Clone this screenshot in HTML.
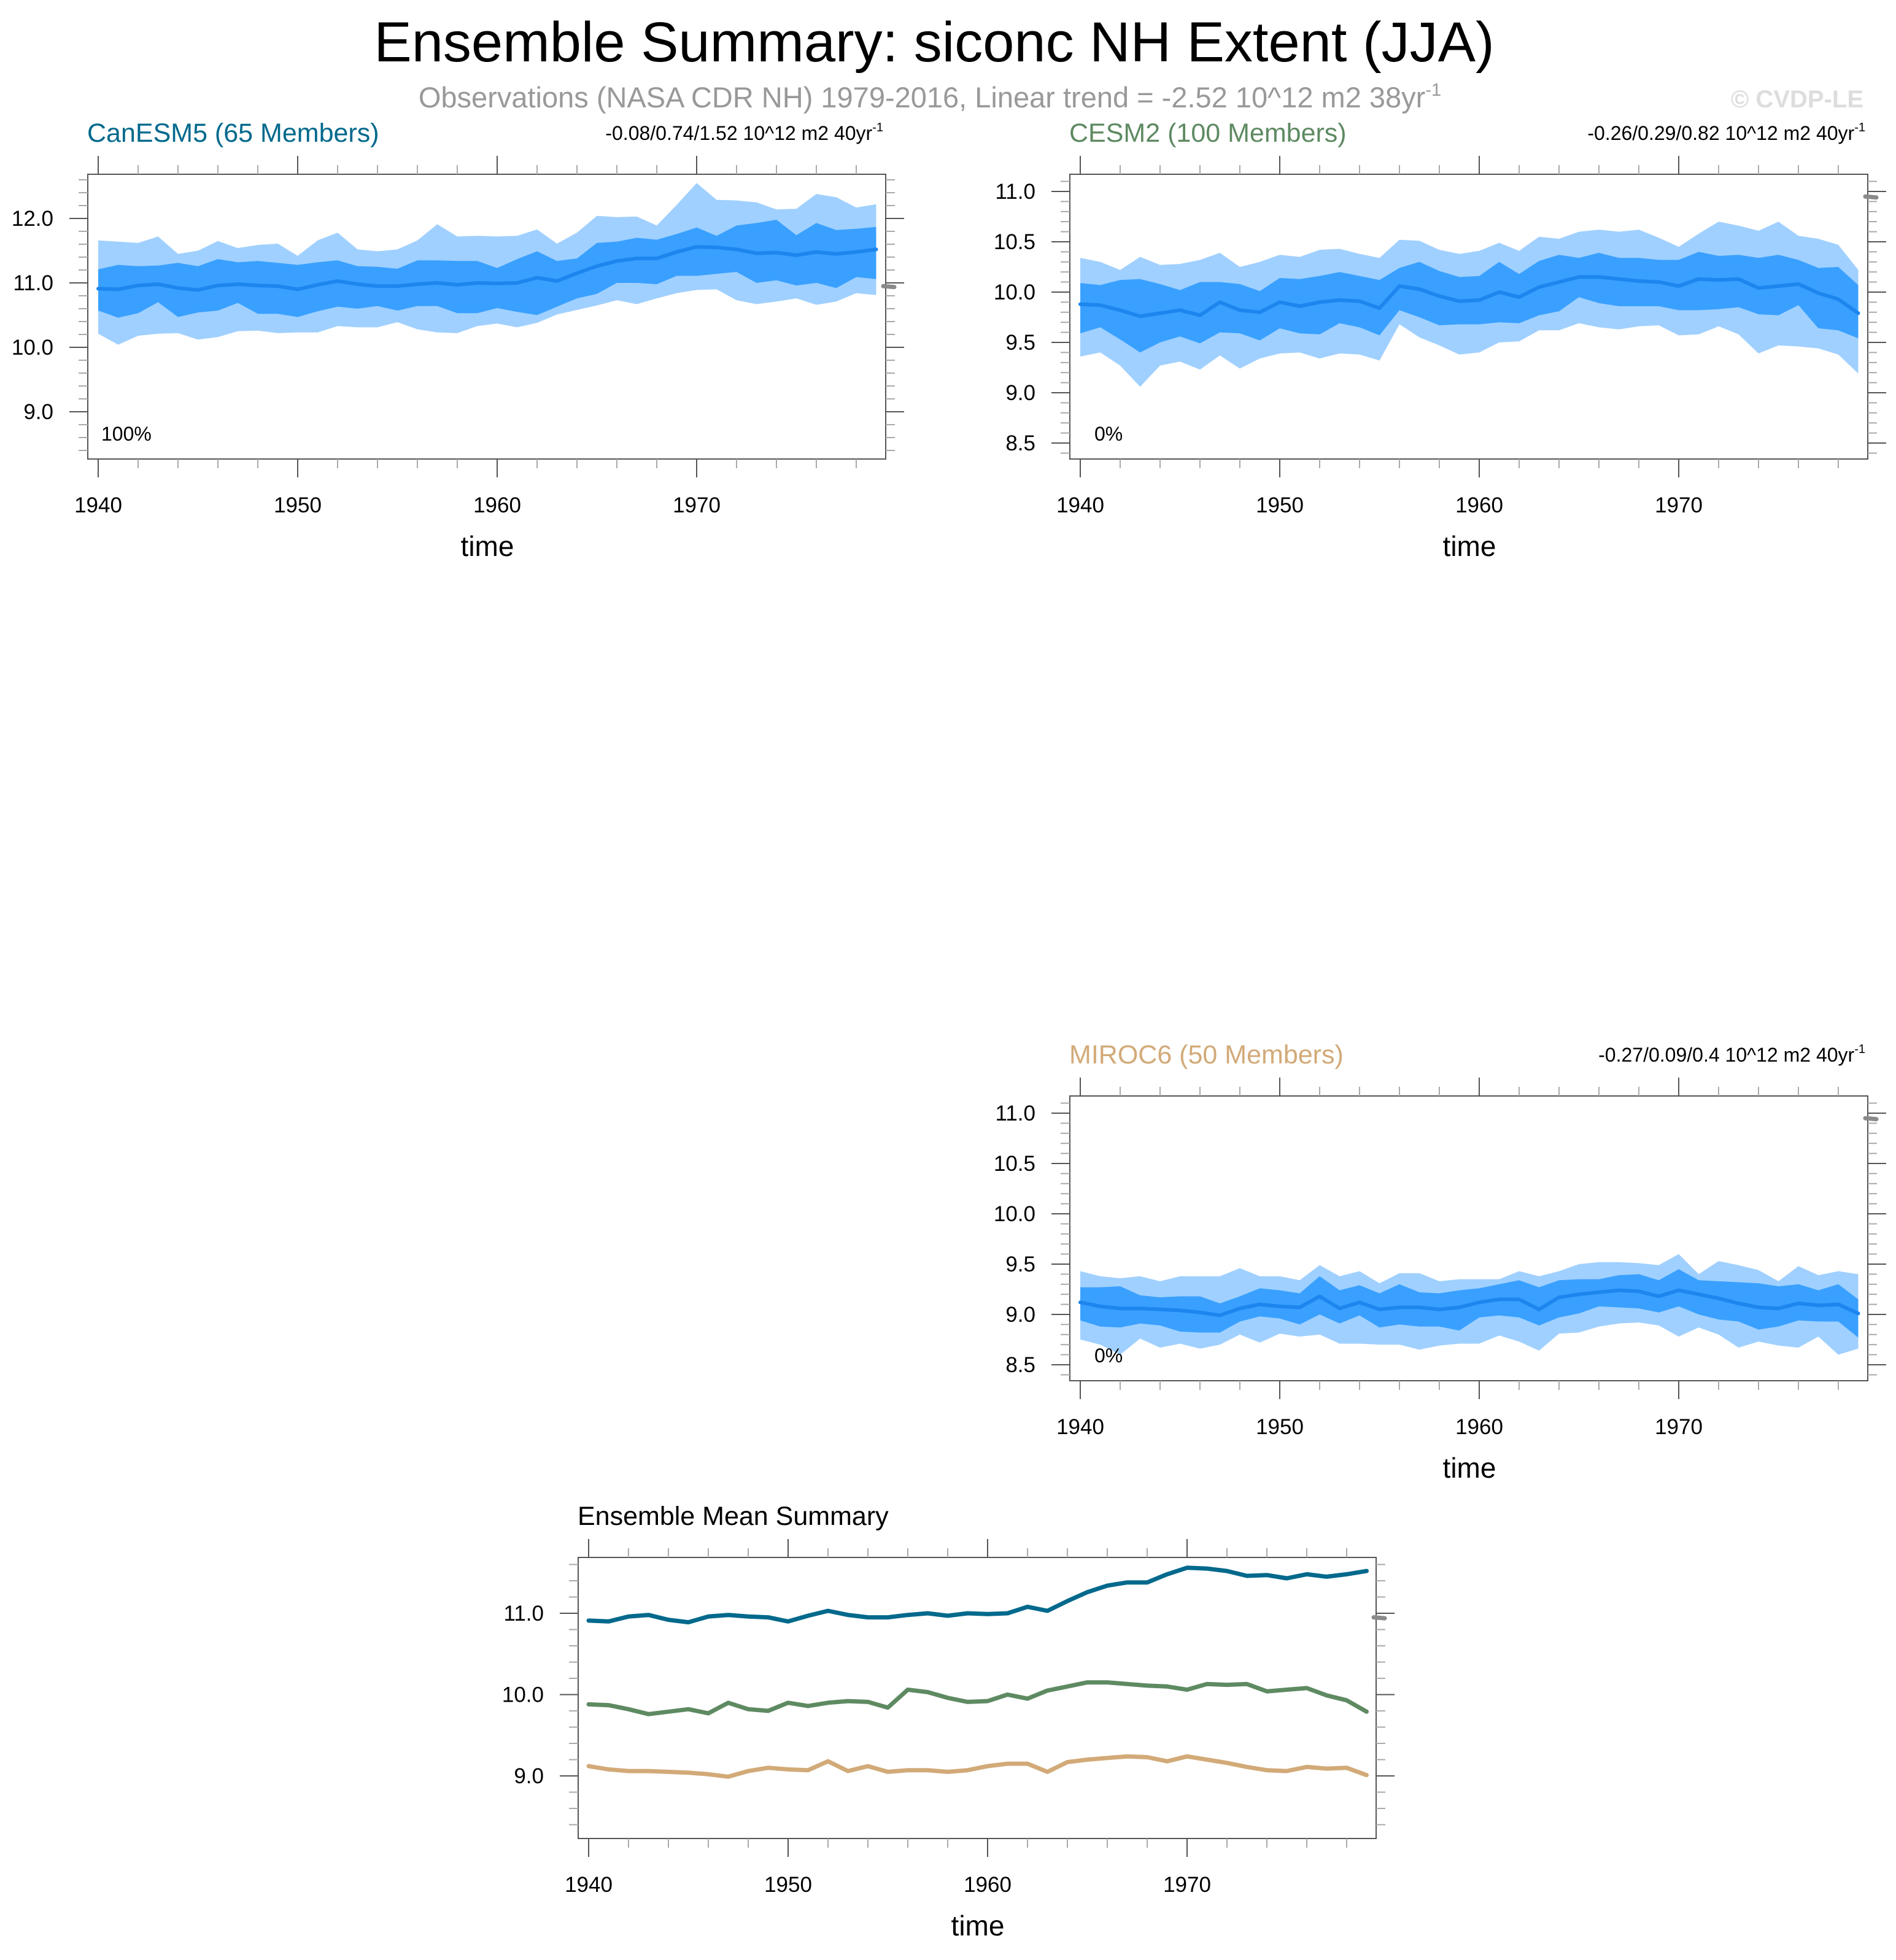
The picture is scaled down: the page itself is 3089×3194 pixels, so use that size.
<!DOCTYPE html>
<html><head><meta charset="utf-8">
<style>
html,body{margin:0;padding:0;background:#fff;}
svg{display:block;font-family:"Liberation Sans",sans-serif;}
</style></head>
<body>
<svg id="chart" width="3089" height="3194" viewBox="0 0 3089 3194" xmlns="http://www.w3.org/2000/svg">
<rect x="0" y="0" width="3089" height="3194" fill="#fff"/>
<text x="1522" y="100" font-size="92" text-anchor="middle" fill="#000">Ensemble Summary: siconc NH Extent (JJA)</text>
<text x="1515" y="175" font-size="47" text-anchor="middle" fill="#999">Observations (NASA CDR NH) 1979-2016, Linear trend = -2.52 10^12 m2 38yr<tspan font-size="29" dy="-19">-1</tspan></text>
<text x="3036" y="175" font-size="40" font-weight="bold" text-anchor="end" fill="#ddd">© CVDP-LE</text>
</svg>
<script>
const years = [];
for (let y = 1940; y <= 1979; y++) years.push(y);

const canMean = [10.91,10.90,10.96,10.98,10.92,10.89,10.96,10.98,10.96,10.95,10.90,10.97,11.03,10.98,10.95,10.95,10.98,11.00,10.97,11.00,10.99,11.00,11.08,11.03,11.15,11.26,11.34,11.38,11.38,11.48,11.56,11.55,11.52,11.46,11.47,11.43,11.48,11.45,11.48,11.52];
const canDarkHi = [11.21,11.28,11.26,11.27,11.31,11.26,11.37,11.32,11.34,11.31,11.28,11.32,11.35,11.26,11.25,11.22,11.35,11.35,11.34,11.34,11.23,11.37,11.49,11.34,11.38,11.62,11.64,11.70,11.67,11.76,11.86,11.73,11.89,11.93,11.98,11.74,11.93,11.82,11.84,11.87];
const canDarkLo = [10.57,10.46,10.53,10.70,10.47,10.54,10.57,10.69,10.52,10.52,10.47,10.56,10.63,10.60,10.64,10.57,10.64,10.64,10.53,10.53,10.61,10.55,10.50,10.63,10.76,10.83,11.00,11.00,10.98,11.11,11.11,11.14,11.17,11.00,11.04,10.96,11.00,10.92,11.09,11.06];
const canLightHi = [11.66,11.64,11.62,11.72,11.45,11.50,11.65,11.54,11.59,11.61,11.42,11.66,11.78,11.52,11.49,11.52,11.66,11.91,11.72,11.73,11.72,11.73,11.83,11.61,11.78,12.04,12.02,12.03,11.89,12.21,12.55,12.29,12.28,12.25,12.14,12.15,12.38,12.33,12.17,12.22];
const canLightLo = [10.21,10.04,10.18,10.21,10.22,10.12,10.16,10.25,10.26,10.22,10.23,10.23,10.33,10.31,10.31,10.39,10.28,10.23,10.22,10.33,10.37,10.31,10.38,10.51,10.58,10.65,10.73,10.67,10.76,10.84,10.89,10.90,10.73,10.67,10.71,10.76,10.66,10.71,10.84,10.81];

const cesmMean = [9.88,9.87,9.82,9.76,9.79,9.82,9.77,9.90,9.82,9.80,9.90,9.86,9.90,9.92,9.91,9.84,10.06,10.03,9.96,9.91,9.92,10.00,9.95,10.05,10.10,10.15,10.15,10.13,10.11,10.10,10.06,10.13,10.12,10.13,10.04,10.06,10.08,9.99,9.93,9.79];
const cesmDarkHi = [10.09,10.07,10.12,10.13,10.08,10.02,10.10,10.10,10.08,10.01,10.14,10.13,10.16,10.20,10.16,10.12,10.24,10.30,10.21,10.15,10.16,10.30,10.18,10.31,10.37,10.34,10.39,10.34,10.34,10.32,10.32,10.40,10.36,10.37,10.34,10.37,10.32,10.24,10.25,10.07];
const cesmDarkLo = [9.59,9.65,9.53,9.40,9.50,9.56,9.49,9.60,9.59,9.52,9.64,9.59,9.58,9.69,9.65,9.57,9.82,9.75,9.67,9.68,9.68,9.70,9.69,9.77,9.81,9.95,9.89,9.86,9.86,9.86,9.82,9.82,9.83,9.85,9.78,9.77,9.87,9.64,9.62,9.54];
const cesmLightHi = [10.34,10.30,10.22,10.35,10.27,10.28,10.32,10.39,10.25,10.30,10.37,10.35,10.42,10.43,10.38,10.34,10.52,10.51,10.42,10.38,10.41,10.49,10.41,10.55,10.53,10.60,10.62,10.60,10.62,10.54,10.45,10.58,10.70,10.66,10.61,10.70,10.56,10.53,10.47,10.22];
const cesmLightLo = [9.36,9.40,9.27,9.06,9.27,9.31,9.23,9.37,9.24,9.34,9.39,9.40,9.34,9.39,9.38,9.32,9.68,9.55,9.47,9.38,9.40,9.50,9.51,9.62,9.62,9.69,9.65,9.63,9.66,9.67,9.57,9.58,9.66,9.58,9.39,9.47,9.46,9.44,9.38,9.19];

const mirocMean = [9.12,9.08,9.06,9.06,9.05,9.04,9.02,8.99,9.06,9.10,9.08,9.07,9.18,9.06,9.12,9.05,9.07,9.07,9.05,9.07,9.12,9.15,9.15,9.05,9.17,9.20,9.22,9.24,9.23,9.18,9.24,9.20,9.16,9.11,9.07,9.06,9.11,9.09,9.10,9.01];
const mirocDarkHi = [9.27,9.27,9.28,9.19,9.17,9.18,9.18,9.11,9.18,9.26,9.24,9.21,9.38,9.24,9.29,9.21,9.30,9.22,9.21,9.24,9.26,9.30,9.34,9.27,9.34,9.35,9.35,9.39,9.40,9.34,9.45,9.34,9.33,9.32,9.31,9.28,9.30,9.24,9.30,9.15];
const mirocDarkLo = [8.94,8.88,8.87,8.91,8.89,8.83,8.82,8.82,8.93,8.98,8.96,8.90,9.00,8.91,8.99,8.87,8.90,8.88,8.88,8.84,8.97,8.99,8.97,8.89,8.97,9.01,9.08,9.07,9.06,9.02,9.08,9.00,8.95,8.93,8.85,8.88,8.94,8.93,8.93,8.77];
const mirocLightHi = [9.43,9.38,9.36,9.38,9.33,9.38,9.38,9.38,9.46,9.38,9.38,9.34,9.49,9.38,9.43,9.31,9.41,9.41,9.33,9.35,9.35,9.35,9.43,9.38,9.43,9.50,9.52,9.52,9.51,9.49,9.60,9.40,9.53,9.49,9.44,9.33,9.48,9.39,9.43,9.40];
const mirocLightLo = [8.75,8.70,8.60,8.76,8.67,8.71,8.66,8.70,8.80,8.72,8.81,8.78,8.80,8.71,8.71,8.70,8.70,8.65,8.69,8.71,8.71,8.79,8.73,8.64,8.81,8.82,8.88,8.91,8.92,8.89,8.78,8.87,8.80,8.67,8.73,8.69,8.67,8.78,8.60,8.66];

const obsValue = 10.95;
const xTickLabels = ["1940","1950","1960","1970"];

const NS = "http://www.w3.org/2000/svg";
const svg = document.getElementById("chart");
function mk(tag, attrs, parent) {
  const e = document.createElementNS(NS, tag);
  for (const k in attrs) e.setAttribute(k, attrs[k]);
  (parent || svg).appendChild(e);
  return e;
}

function drawPanel(cfg) {
  const g = mk("g", {});
  
  
  const {x0, x1, y0, y1, vRef, yRef, ppu} = cfg;
  const xs = yr => x0 + 17 + (yr - 1940) * 32.5;
  const ys = v => yRef - (v - vRef) * ppu;
  const vTop = vRef + (yRef - y0) / ppu, vBot = vRef - (y1 - yRef) / ppu;

  if (cfg.bands) {
    cfg.bands.forEach(b => {
      let d = "M" + years.map((yr, i) => xs(yr).toFixed(1) + "," + ys(b.hi[i]).toFixed(1)).join("L");
      for (let i = years.length - 1; i >= 0; i--) d += "L" + xs(years[i]).toFixed(1) + "," + ys(b.lo[i]).toFixed(1);
      d += "Z";
      const p = mk("path", {d: d, fill: b.color, stroke: "none"}, g);
      
      
    });
  }
  cfg.lines.forEach(l => {
    const d = "M" + years.map((yr, i) => xs(yr).toFixed(1) + "," + ys(l.vals[i]).toFixed(1)).join("L");
    const p = mk("path", {d: d, fill: "none", stroke: l.color, "stroke-width": l.w, "stroke-linejoin": "round", "stroke-linecap": "round"}, g);
    
    
  });

  const box = mk("rect", {x: x0, y: y0, width: x1 - x0, height: y1 - y0, fill: "none", stroke: "#555", "stroke-width": 2}, g);
  
  

  const start = Math.ceil(vBot / cfg.minor - 1e-6) * cfg.minor;
  for (let v = start; v <= vTop + 1e-6; v += cfg.minor) {
    const isMajor = Math.abs(v / cfg.major - Math.round(v / cfg.major)) < 1e-6;
    const y = ys(v);
    const len = isMajor ? 30 : 15;
    const c = isMajor ? "#555" : "#aaa";
    const t1 = mk("line", {x1: x0 - len, x2: x0, y1: y, y2: y, stroke: c, "stroke-width": 2}, g);
    
    
    const t2 = mk("line", {x1: x1, x2: x1 + len, y1: y, y2: y, stroke: c, "stroke-width": 2}, g);
    
    
    if (isMajor) {
      const t = mk("text", {x: x0 - 56, y: y + 12, "font-size": 35, "text-anchor": "end", fill: "#000"}, g);
      t.textContent = v.toFixed(1);
      
      
    }
  }
  for (let yr = 1940; yr <= 1978; yr += 2) {
    const isMajor = yr % 10 === 0;
    const x = xs(yr);
    const len = isMajor ? 30 : 15;
    const c = isMajor ? "#555" : "#aaa";
    const a = mk("line", {x1: x, x2: x, y1: y0 - len, y2: y0, stroke: c, "stroke-width": 2}, g);
    
    
    const b = mk("line", {x1: x, x2: x, y1: y1, y2: y1 + len, stroke: c, "stroke-width": 2}, g);
    
    
  }
  xTickLabels.forEach(lab => {
    const t = mk("text", {x: xs(+lab), y: y1 + 87, "font-size": 35, "text-anchor": "middle", fill: "#000"}, g);
    t.textContent = lab;
    
    
  });
  const tt = mk("text", {x: (x0 + x1) / 2 + 1, y: y1 + 158, "font-size": 46, "text-anchor": "middle", fill: "#000"}, g);
  tt.textContent = "time";
  
  

  const om = mk("line", {x1: x1 - 4, x2: x1 + 14, y1: ys(obsValue), y2: ys(obsValue) + 1.5, stroke: "#8a8a8a", "stroke-width": 7, "stroke-linecap": "round"}, g);
  
  

  const ti = mk("text", {x: x0 - 1, y: y0 - 53, "font-size": 43, fill: cfg.titleColor}, g);
  ti.textContent = cfg.title;
  
  
  if (cfg.trend) {
    const tr = mk("text", {x: x1 - 4, y: y0 - 56, "font-size": 32, "text-anchor": "end", fill: "#000"}, g);
    
    
    tr.textContent = cfg.trend;
    const sup = mk("tspan", {"font-size": 20, dy: -14}, tr);
    sup.textContent = "-1";
  }
  if (cfg.pct) {
    const pc = mk("text", {x: x0 + cfg.pctX, y: y1 - 30, "font-size": 32, fill: "#000"}, g);
    pc.textContent = cfg.pct;
    
    
  }
}

const LIGHT = "#a0d0ff", DARK = "#39a0ff", MEAN = "#1d86ee";

drawPanel({name: "canesm5-panel", x0: 143, x1: 1443, y0: 284, y1: 748, vRef: 12, yRef: 356, ppu: 105, major: 1, minor: 0.2,
  title: "CanESM5 (65 Members)", titleColor: "#00698c", trend: "-0.08/0.74/1.52 10^12 m2 40yr", pct: "100%", pctX: 22,
  bands: [{name: "canesm5-outer-range", hi: canLightHi, lo: canLightLo, color: LIGHT}, {name: "canesm5-inner-range", hi: canDarkHi, lo: canDarkLo, color: DARK}],
  lines: [{name: "canesm5-mean-line", vals: canMean, color: MEAN, w: 6}]});

drawPanel({name: "cesm2-panel", x0: 1743, x1: 3043, y0: 284, y1: 748, vRef: 11, yRef: 312, ppu: 164, major: 0.5, minor: 0.1,
  title: "CESM2 (100 Members)", titleColor: "#5e8a62", trend: "-0.26/0.29/0.82 10^12 m2 40yr", pct: "0%", pctX: 40,
  bands: [{name: "cesm2-outer-range", hi: cesmLightHi, lo: cesmLightLo, color: LIGHT}, {name: "cesm2-inner-range", hi: cesmDarkHi, lo: cesmDarkLo, color: DARK}],
  lines: [{name: "cesm2-mean-line", vals: cesmMean, color: MEAN, w: 6}]});

drawPanel({name: "miroc6-panel", x0: 1743, x1: 3043, y0: 1786, y1: 2250, vRef: 11, yRef: 1814, ppu: 164, major: 0.5, minor: 0.1,
  title: "MIROC6 (50 Members)", titleColor: "#d2aa78", trend: "-0.27/0.09/0.4 10^12 m2 40yr", pct: "0%", pctX: 40,
  bands: [{name: "miroc6-outer-range", hi: mirocLightHi, lo: mirocLightLo, color: LIGHT}, {name: "miroc6-inner-range", hi: mirocDarkHi, lo: mirocDarkLo, color: DARK}],
  lines: [{name: "miroc6-mean-line", vals: mirocMean, color: MEAN, w: 6}]});

drawPanel({name: "ensemble-mean-summary-panel", x0: 942, x1: 2242, y0: 2538, y1: 2996, vRef: 11, yRef: 2629, ppu: 132.5, major: 1, minor: 0.2,
  title: "Ensemble Mean Summary", titleColor: "#000",
  lines: [{name: "canesm5-ensemble-mean", vals: canMean, color: "#00698c", w: 7},
          {name: "cesm2-ensemble-mean", vals: cesmMean, color: "#5e8a62", w: 7},
          {name: "miroc6-ensemble-mean", vals: mirocMean, color: "#d2aa78", w: 7}]});
</script>
</body></html>
